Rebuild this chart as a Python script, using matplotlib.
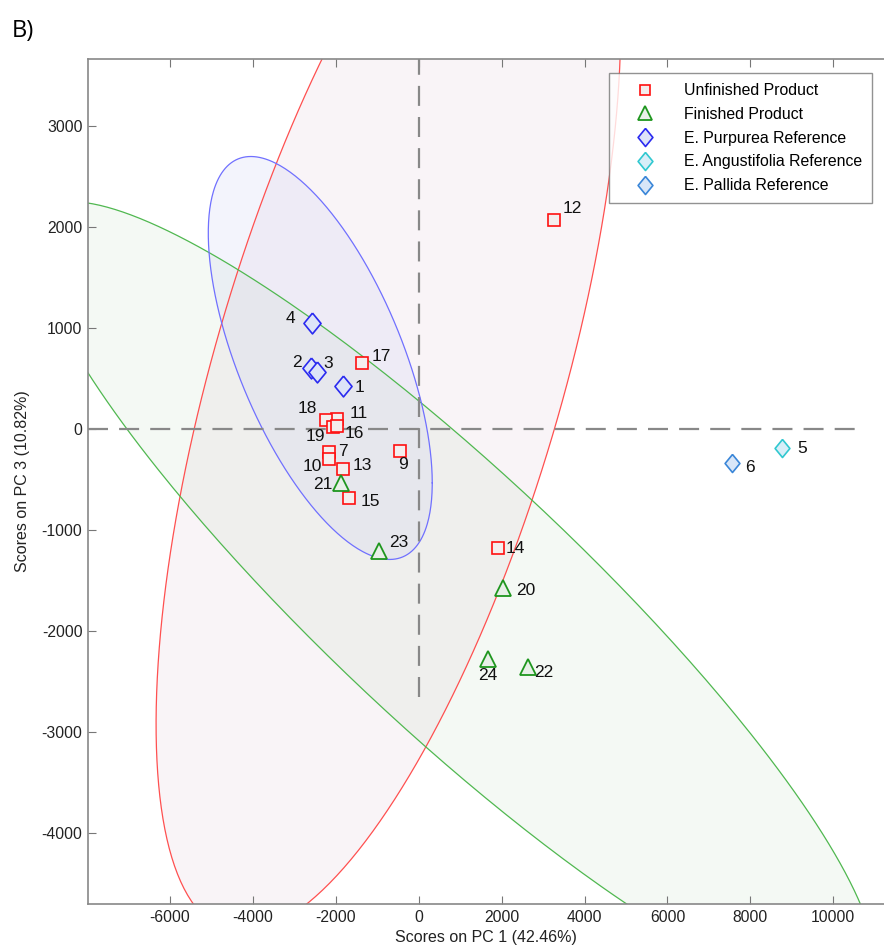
import numpy as np
import matplotlib
matplotlib.use('Agg')
import matplotlib.pyplot as plt

plt.rcParams['font.family'] = ['Liberation Sans', 'DejaVu Sans']
plt.rcParams['axes.unicode_minus'] = False

# scores (PC1, PC3)
unf_ids = ['12', '17', '11', '18', '19', '16', '7', '10', '13', '15', '9', '14']
unf_x = [3263, -1358, -1963, -2243, -2060, -1978, -2164, -2156, -1818, -1681, -451, 1920]
unf_y = [2068, 653, 99, 89, 17, 30, -231, -300, -399, -680, -215, -1181]

fin_ids = ['21', '23', '20', '24', '22']
fin_x = [-1882, -958, 2041, 1664, 2644]
fin_y = [-531, -1207, -1577, -2279, -2352]

purp_ids = ['4', '2', '3', '1']
purp_x = [-2574, -2605, -2446, -1833]
purp_y = [1049, 601, 561, 429]

ang_ids = ['5']
ang_x = [8755]
ang_y = [-191]

pall_ids = ['6']
pall_x = [7549]
pall_y = [-333]

# confidence ellipses: centre x, centre y, half-width, half-height, correlation
ell_unf = [-731, 534, 5603, 5512, 0.627]
ell_fin = [839, -1697, 10166, 3946, -0.904]
ell_purp = [-2374, 703, 2701, 1994, -0.62]

# label offsets in pixels
offs = {'12': (18, 12), '17': (19, 7), '11': (21, 6), '18': (-18, 12), '19': (-18, -9),
        '16': (18, -8), '7': (14, 1), '10': (-17, -7), '13': (19, 4), '15': (21, -4),
        '9': (3, -14), '14': (17, 0), '21': (-18, -2), '23': (20, 8), '20': (22, -2),
        '24': (0, -16), '22': (15, -6), '4': (-22, 5), '2': (-14, 6), '3': (11, 9),
        '1': (17, -2), '5': (20, 0), '6': (18, -5)}

# slightly tall diamond like the original
diam = [(0, 1), (0.82, 0), (0, -1), (-0.82, 0), (0, 1)]


def ellipse(ax, p, edge, face):
    cx, cy, a, b, r = p
    t = np.linspace(0, 2 * np.pi, 400)
    phi = np.arccos(r)
    x = cx + a * np.cos(t)
    y = cy + b * np.cos(t - phi)
    ax.fill(x, y, color=face, lw=0, zorder=1)
    ax.plot(x, y, color=edge, lw=0.9, zorder=2)


fig = plt.figure(figsize=(8.84, 9.46), dpi=100)
ax = fig.add_axes([88 / 884, 42 / 946, 796 / 884, 845 / 946])

ellipse(ax, ell_unf, '#ff5050', (0.85, 0.72, 0.8, 0.15))
ellipse(ax, ell_fin, '#50b850', (0.72, 0.85, 0.72, 0.15))
ellipse(ax, ell_purp, '#7070ff', (0.75, 0.78, 0.95, 0.18))

ax.axhline(0, xmax=0.967, color='#888888', lw=1.6, dashes=(9, 5), zorder=3)
ax.axvline(0, ymin=0.245, color='#888888', lw=1.6, dashes=(9, 5), zorder=3)

ax.plot(unf_x, unf_y, 's', ms=8.5, mec='#ff1010', mfc='#f4eeee', mew=1.2,
        ls='none', zorder=5, label='Unfinished Product')
ax.plot(fin_x, fin_y, '^', ms=11, mec='#1e961e', mfc='#e8f0e8', mew=1.3,
        ls='none', zorder=5, label='Finished Product')
ax.plot(purp_x, purp_y, marker=diam, ms=15, mec='#2a2af0', mfc='#dde4f8', mew=1.2,
        ls='none', zorder=5, label='E. Purpurea Reference')
ax.plot(ang_x, ang_y, marker=diam, ms=13, mec='#30c8d0', mfc='#d8eef8', mew=1.2,
        ls='none', zorder=5, label='E. Angustifolia Reference')
ax.plot(pall_x, pall_y, marker=diam, ms=13, mec='#3a86d8', mfc='#d8e6f8', mew=1.2,
        ls='none', zorder=5, label='E. Pallida Reference')

for ids, xs, ys in [(unf_ids, unf_x, unf_y), (fin_ids, fin_x, fin_y),
                    (purp_ids, purp_x, purp_y), (ang_ids, ang_x, ang_y),
                    (pall_ids, pall_x, pall_y)]:
    for s, x, y in zip(ids, xs, ys):
        ax.annotate(s, (x, y), xytext=offs[s], textcoords='offset pixels',
                    ha='center', va='center', fontsize=12.5, color='#111111', zorder=6)

ax.set_xlim(-7976, 11223)
ax.set_ylim(-4701, 3662)
ax.set_xticks(np.arange(-6000, 10001, 2000))
ax.set_yticks(np.arange(-4000, 3001, 1000))
ax.tick_params(direction='in', length=6, color='#777777', labelsize=11.3,
               labelcolor='#222222', top=True, pad=4)
for side in ['left', 'bottom', 'top']:
    ax.spines[side].set_color('#888888')
    ax.spines[side].set_linewidth(1.2)
ax.spines['right'].set_visible(False)

ax.set_xlabel('Scores on PC 1 (42.46%)', fontsize=11.5, color='#222222', labelpad=4)
ax.set_ylabel('Scores on PC 3 (10.82%)', fontsize=11.5, color='#222222', labelpad=8)

leg = ax.legend(loc='upper right', bbox_to_anchor=(872 / 884, 1 - 73 / 946),
                bbox_transform=fig.transFigure, borderaxespad=0, fontsize=11.4,
                frameon=True, fancybox=False, edgecolor='#777777',
                handletextpad=0.85, borderpad=0.65, labelspacing=0.55,
                handlelength=3.2)
for h, ms in zip(leg.legend_handles, [7.5, 9.5, 13, 13, 13]):
    h.set_markersize(ms)
leg.get_frame().set_linewidth(1.0)
leg.set_zorder(10)

fig.text(12 / 884, 1 - 31 / 946, 'B)', fontsize=17, family='Open Sans', va='center')

fig.savefig('out.png', dpi=100)
